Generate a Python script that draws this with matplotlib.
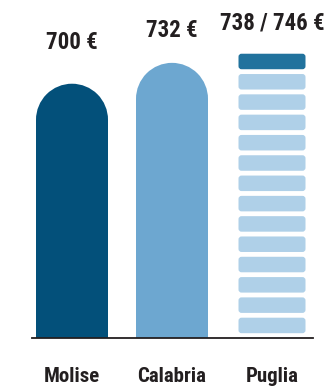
import matplotlib
matplotlib.use("Agg")
import matplotlib.pyplot as plt
from matplotlib.patches import Rectangle, Ellipse, FancyBboxPatch

regions = ["Molise", "Calabria", "Puglia"]
values = [700, 732, 746]
value_labels = ["700 €", "732 €", "738 / 746 €"]
puglia_steps = 14

base = 310          # value at the baseline (axis is cut)
px_per_eur = 0.652  # vertical scale of the drawing
px_per_cat = 100.0  # horizontal distance between bars

dark = "#03507a"
mid = "#6da7d0"
light = "#afd0e8"
accent = "#21729d"
ink = "#231f20"
font = ["Roboto Condensed", "DejaVu Sans"]

fig = plt.figure(figsize=(3.24, 3.87), dpi=100)
ax = fig.add_axes([0, 0, 1, 1])
ax.set_xlim(-0.72, 2.52)
ax.set_ylim(base - 49 / px_per_eur, base + 338 / px_per_eur)
ax.axis("off")

# bars with round tops
w = 0.72
r = 36 / px_per_eur
for i, (v, c) in enumerate(zip(values[:2], [dark, mid])):
    ax.add_patch(Rectangle((i - w / 2, base), w, v - r - base, color=c, lw=0))
    ax.add_patch(Ellipse((i, v - r), w, 2 * r, color=c, lw=0))

# stacked segments for Puglia
sw = 0.67
pitch = (values[2] - base) / puglia_steps
gap = 4.8 / px_per_eur
aspect = px_per_cat / px_per_eur
for k in range(puglia_steps):
    y0 = base + k * pitch + gap
    c = accent if k == puglia_steps - 1 else light
    ax.add_patch(FancyBboxPatch((2 - sw / 2, y0), sw, pitch - gap,
                                boxstyle="round,pad=0,rounding_size=0.03",
                                mutation_aspect=aspect, color=c, lw=0))

ax.plot([-0.40, 2.41], [base, base], color=ink, lw=1.3)

lift = [30, 21, 19]  # px between bar top and label
for i, (v, lab) in enumerate(zip(values, value_labels)):
    ax.annotate(lab, (i, v), xytext=(0, lift[i] * 0.72), textcoords="offset points",
                ha="center", va="bottom", fontsize=16.5, fontweight="bold",
                family=font, color=ink)

for i, name in enumerate(regions):
    ax.text(i, base - 39 / px_per_eur, name, ha="center", va="center",
            fontsize=15, fontweight="bold", family=font, color=ink)

fig.savefig("out.png", dpi=100)
